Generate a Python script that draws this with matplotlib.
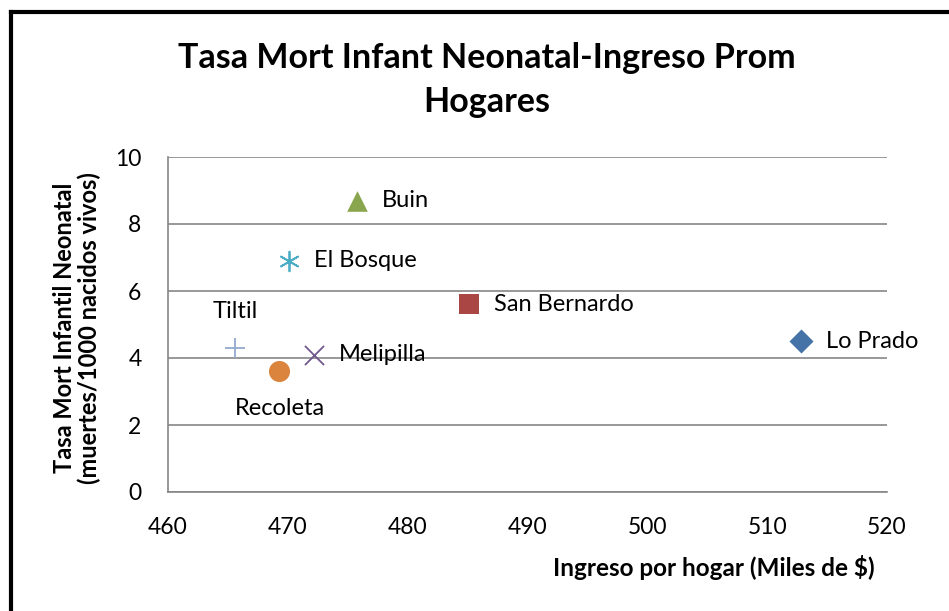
import matplotlib.pyplot as plt
from matplotlib.lines import Line2D

plt.rcParams['font.family'] = ['Lato', 'DejaVu Sans']

comunas = ["Lo Prado", "San Bernardo", "Buin", "El Bosque", "Melipilla", "Recoleta", "Tiltil"]
ingreso = [512.8, 485.1, 475.8, 470.1, 472.2, 469.3, 465.6]
tasa = [4.5, 5.6, 8.7, 6.9, 4.1, 3.6, 4.3]

markers = ["D", "s", "^", "*", "x", "o", "+"]
colors = ["#4572A7", "#AA4643", "#89A54E", "#4BACC6", "#71588F", "#DB843D", "#93A9CF"]
sizes = [150, 200, 220, 200, 190, 230, 210]

fig = plt.figure(figsize=(9.49, 6.11), dpi=100)
ax = fig.add_axes([168 / 949, 119 / 611, 719 / 949, 335 / 611])

for i, name in enumerate(comunas):
    m = markers[i]
    if m == "*":
        # asterisk-like marker (Excel star)
        ax.scatter(ingreso[i], tasa[i], marker=(6, 2, 0), s=sizes[i], color=colors[i], linewidths=1.3, zorder=3)
    elif m in ("x", "+"):
        ax.scatter(ingreso[i], tasa[i], marker=m, s=sizes[i], color=colors[i], linewidths=1.3, zorder=3)
    else:
        ax.scatter(ingreso[i], tasa[i], marker=m, s=sizes[i], color=colors[i], linewidths=0, zorder=3)

    if name == "Tiltil":
        ax.annotate(name, (ingreso[i], tasa[i]), xytext=(0, 19), textcoords="offset points",
                    ha="center", va="bottom", fontsize=17)
    elif name == "Recoleta":
        ax.annotate(name, (ingreso[i], tasa[i]), xytext=(0, -19), textcoords="offset points",
                    ha="center", va="top", fontsize=17)
    else:
        ax.annotate(name, (ingreso[i], tasa[i]), xytext=(18, 0), textcoords="offset points",
                    ha="left", va="center", fontsize=17)

ax.set_xlim(460, 520)
ax.set_ylim(0, 10)
ax.set_xticks(range(460, 521, 10))
ax.set_yticks(range(0, 11, 2))
ax.yaxis.grid(True, color="#868686", linewidth=1.2)
ax.set_axisbelow(True)
for side in ["top", "right"]:
    ax.spines[side].set_visible(False)
for side in ["left", "bottom"]:
    ax.spines[side].set_color("#868686")
    ax.spines[side].set_linewidth(1.2)
ax.tick_params(axis="both", length=0, labelsize=16.5)
ax.tick_params(axis="x", pad=18)
ax.tick_params(axis="y", pad=19)

fig.text(487 / 949, 1 - 80 / 611, "Tasa Mort Infant Neonatal-Ingreso Prom\nHogares",
         ha="center", va="center", fontsize=24.5, fontweight="bold", linespacing=1.45)
fig.text(714 / 949, 1 - 568 / 611, "Ingreso por hogar (Miles de $)",
         ha="center", va="center", fontsize=17.5, fontweight="bold")
fig.text(77 / 949, 1 - 328 / 611, "Tasa Mort Infantil Neonatal\n(muertes/1000 nacidos vivos)",
         ha="center", va="center", rotation=90, fontsize=17, fontweight="bold", linespacing=1.1)

# outer chart frame (left and top edges visible)
fig.add_artist(Line2D([11 / 949, 11 / 949], [0, 1 - 12 / 611], transform=fig.transFigure,
                      color="black", linewidth=3))
fig.add_artist(Line2D([11 / 949, 1], [1 - 12 / 611, 1 - 12 / 611], transform=fig.transFigure,
                      color="black", linewidth=3))

fig.savefig("out.png", dpi=100)
